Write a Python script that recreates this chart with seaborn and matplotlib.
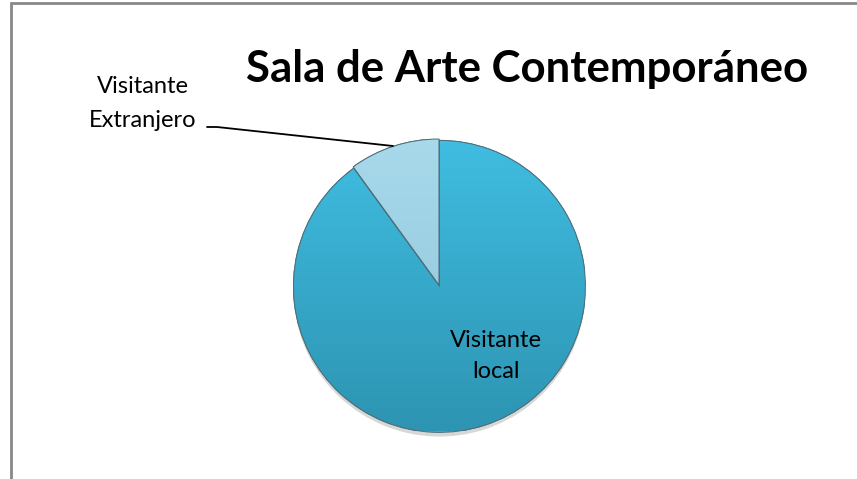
import numpy as np
import matplotlib
matplotlib.use("Agg")
import matplotlib.pyplot as plt
import seaborn as sns
from matplotlib.lines import Line2D
from matplotlib.patches import Rectangle, Wedge
from matplotlib.colors import LinearSegmentedColormap
import matplotlib.patheffects as pe

categories = ["Visitante Extranjero", "Visitante local"]
values = [10, 90]
title_text = "Sala de Arte Contemporáneo"

sns.set_theme(style="white")
plt.rcParams['font.family'] = ['Lato', 'DejaVu Sans']
plt.rcParams['text.color'] = 'black'

W, H = 857, 479
fig = plt.figure(figsize=(W / 100, H / 100), dpi=100)
fig.patch.set_facecolor("white")

# pie axes: center (439, 285) px, radius 146 px
cx, cy, r = 439, 285, 146
ax = fig.add_axes([(cx - r) / W, (H - cy - r) / H, 2 * r / W, 2 * r / H])
top_cols = ["#A8DAEC", "#40BEE2"]
bot_cols = ["#8DC2D5", "#2D93B1"]
wedges, _ = ax.pie(values, startangle=90, counterclock=True,
                   colors=["#9FD0E3", "#38ADD2"],
                   wedgeprops=dict(edgecolor="#4f6f78", linewidth=0.7),
                   explode=[0.0, 0.01])
ax.set_xlim(-1, 1)
ax.set_ylim(-1, 1)
ax.set_aspect("equal")
ax.axis("off")

# soft shadow under the pie
for w in wedges:
    w.set_path_effects([pe.SimplePatchShadow(offset=(0, -3), shadow_rgbFace="#b0b0b0", alpha=0.5), pe.Normal()])

# vertical gradient inside each wedge
for w, tc, bc in zip(wedges, top_cols, bot_cols):
    cmap = LinearSegmentedColormap.from_list("g", [bc, tc])
    grad = np.linspace(0, 1, 256).reshape(-1, 1)
    im = ax.imshow(grad, cmap=cmap, extent=[-1.05, 1.05, -1.05, 1.05],
                   origin="lower", aspect="auto", zorder=w.get_zorder() + 0.1)
    im.set_clip_path(w)
ax.set_xlim(-1, 1)
ax.set_ylim(-1, 1)
# outlines on top
for w in wedges:
    ax.add_patch(Wedge(w.center, w.r, w.theta1, w.theta2,
                       facecolor="none", edgecolor="#4f6f78",
                       linewidth=0.7, zorder=w.get_zorder() + 0.3))

def fx(x):
    return x / W

def fy(y):
    return 1 - y / H

# title
fig.text(fx(527), fy(82), title_text, fontsize=31.5, fontweight="bold",
         ha="center", va="baseline", color="black")

# outside label
fig.text(fx(143), fy(93), "Visitante", fontsize=17, ha="center", va="baseline", color="black")
fig.text(fx(143), fy(127), "Extranjero", fontsize=17, ha="center", va="baseline", color="black")
fig.add_artist(Line2D([fx(207), fx(217), fx(393)], [fy(127), fy(127), fy(146)],
                      transform=fig.transFigure, color="black", linewidth=1.3))

# inside label
fig.text(fx(496), fy(347), "Visitante", fontsize=17, ha="center", va="baseline", color="black")
fig.text(fx(496), fy(378), "local", fontsize=17, ha="center", va="baseline", color="black")

# frame (left and top edges visible)
fig.add_artist(Rectangle((fx(11), fy(H + 20)), fx(W + 20) - fx(11), fy(3) - fy(H + 20),
                         transform=fig.transFigure, fill=False,
                         edgecolor="#888888", linewidth=2))

fig.savefig("out.png", dpi=100)
